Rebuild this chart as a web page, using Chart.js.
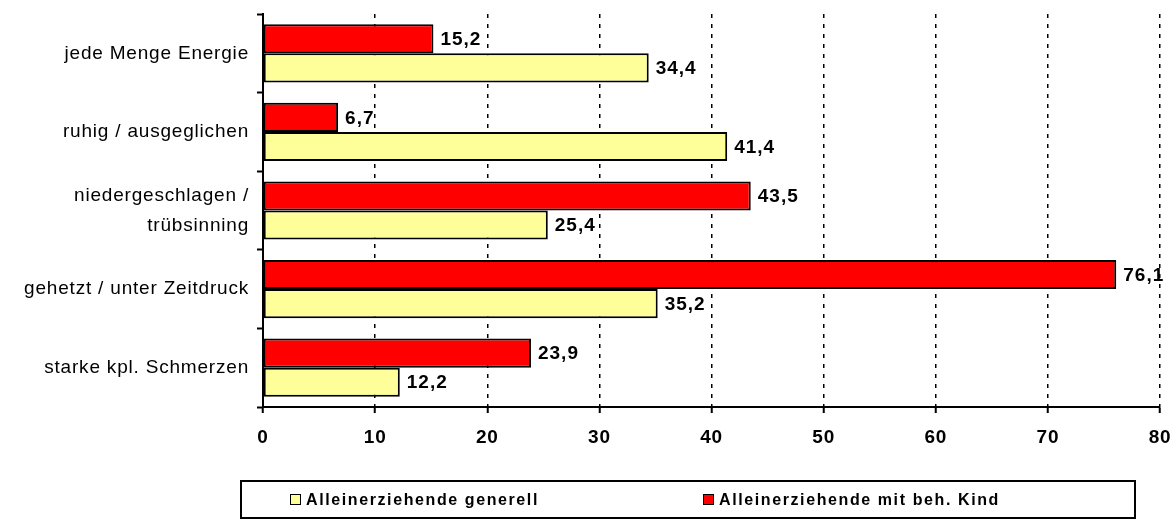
<!DOCTYPE html>
<html>
<head>
<meta charset="utf-8">
<script src="https://cdn.jsdelivr.net/npm/chart.js@4/dist/chart.umd.min.js"></script>
<style>
  html, body { margin: 0; padding: 0; background: #fff; }
  #wrap { position: relative; width: 1176px; height: 520px; }
  #chart { position: absolute; left: 0; top: 0; }
  #legend {
    position: absolute; left: 240px; top: 480px; width: 892px; height: 35px;
    border: 2px solid #000; box-sizing: content-box;
    font: bold 16px "Liberation Sans", Arial, sans-serif; letter-spacing: 1.6px; color: #000;
  }
  .item { position: absolute; top: 8px; white-space: nowrap; line-height: 19px; }
  .swatch { display: inline-block; width: 9px; height: 9px; border: 1px solid #000; margin-right: 5px; vertical-align: 0px; }
</style>
</head>
<body>
<div id="wrap">
  <canvas id="chart" width="1176" height="520"></canvas>
  <div id="legend"></div>
</div>
<script>
(() => {
  const categories = [
    "jede Menge Energie",
    "ruhig / ausgeglichen",
    ["niedergeschlagen /", "trübsinning"],
    "gehetzt / unter Zeitdruck",
    "starke kpl. Schmerzen",
  ];
  const generell = [34.4, 41.4, 25.4, 35.2, 12.2];
  const mitKind = [15.2, 6.7, 43.5, 76.1, 23.9];
  const seriesNames = ["Alleinerziehende generell", "Alleinerziehende mit beh. Kind"];
  const xTicks = [0, 10, 20, 30, 40, 50, 60, 70, 80];

  const RED = "#ff0000";
  const YELLOW = "#ffff99";

  const spacing = {
    id: "spacing",
    beforeLayout(chart) { chart.ctx.letterSpacing = "0.8px"; },
    beforeDraw(chart) { chart.ctx.letterSpacing = "0.8px"; },
  };

  const valueLabels = {
    id: "valueLabels",
    afterDatasetsDraw(chart) {
      const ctx = chart.ctx;
      ctx.save();
      ctx.letterSpacing = "1px";
      ctx.font = 'bold 19px "Liberation Sans", Arial, sans-serif';
      ctx.fillStyle = "#000";
      ctx.textAlign = "left";
      ctx.textBaseline = "middle";
      chart.data.datasets.forEach((ds, i) => {
        chart.getDatasetMeta(i).data.forEach((bar, j) => {
          const txt = ds.data[j].toFixed(1).replace(".", ",");
          ctx.fillText(txt, bar.x + 7, bar.y + 1);
        });
      });
      ctx.restore();
    },
  };

  new Chart(document.getElementById("chart"), {
    type: "bar",
    data: {
      labels: categories,
      datasets: [
        { label: seriesNames[1], data: mitKind, backgroundColor: RED, borderColor: "#000", borderWidth: 2, borderSkipped: false },
        { label: seriesNames[0], data: generell, backgroundColor: YELLOW, borderColor: "#000", borderWidth: 2, borderSkipped: false },
      ],
    },
    options: {
      indexAxis: "y",
      responsive: false,
      animation: false,
      categoryPercentage: 0.74,
      barPercentage: 1.0,
      layout: { padding: { top: 14, right: 16, bottom: 63, left: 0 } },
      plugins: { legend: { display: false }, tooltip: { enabled: false } },
      scales: {
        x: {
          min: 0,
          max: 80,
          afterBuildTicks: (scale) => { scale.ticks = xTicks.map((v) => ({ value: v })); },
          afterFit: (scale) => {
            scale.height = 50;
            scale.paddingLeft = 0;
            scale.paddingRight = 0;
          },
          ticks: {
            color: "#000",
            padding: 13,
            font: { family: '"Liberation Sans", Arial, sans-serif', size: 19, weight: "bold" },
          },
          grid: { color: "#000", lineWidth: 1.5, tickLength: 6, tickWidth: 2, tickColor: "#000" },
          border: { color: "#000", width: 2, dash: [4, 6] },
        },
        y: {
          afterFit: (scale) => {
            scale.width = 263;
            scale.paddingTop = 0;
            scale.paddingBottom = 0;
          },
          ticks: {
            color: "#000",
            padding: 8,
            font: { family: '"Liberation Sans", Arial, sans-serif', size: 19, lineHeight: 1.6 },
          },
          grid: { drawOnChartArea: false, tickLength: 6, tickWidth: 2, tickColor: "#000", offset: true },
          border: { color: "#000", width: 2 },
        },
      },
    },
    plugins: [spacing, valueLabels],
  });

  // legend drawn in a framed box under the chart, like the original
  const legend = document.getElementById("legend");
  const items = [
    { name: seriesNames[0], color: YELLOW, left: 48 },
    { name: seriesNames[1], color: RED, left: 461 },
  ];
  items.forEach((it) => {
    const span = document.createElement("span");
    span.className = "item";
    span.style.left = it.left + "px";
    const sw = document.createElement("span");
    sw.className = "swatch";
    sw.style.background = it.color;
    span.appendChild(sw);
    span.appendChild(document.createTextNode(it.name));
    legend.appendChild(span);
  });
})();
</script>
</body>
</html>
